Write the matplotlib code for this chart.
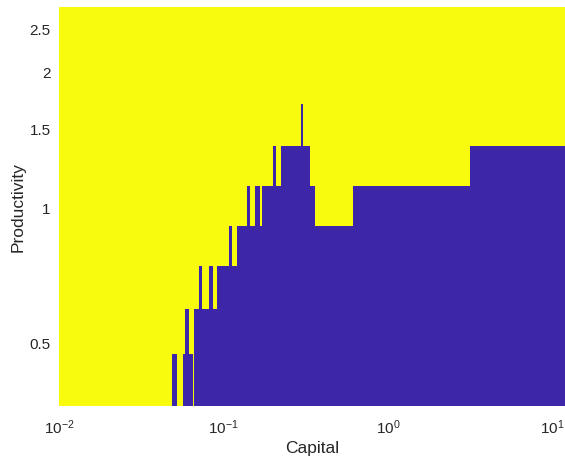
import numpy as np
import matplotlib
matplotlib.use('Agg')
import matplotlib.pyplot as plt
from matplotlib.colors import ListedColormap

plt.rcParams['font.family'] = ['Liberation Sans', 'DejaVu Sans']
plt.rcParams['mathtext.default'] = 'regular'

# capital grid breakpoints (cell edges) and productivity cell edges
capital_edges = [0.01, 0.04875, 0.05216, 0.05673, 0.05834, 0.06195, 0.06498,
                 0.06645, 0.07127, 0.07401, 0.0820, 0.0867, 0.09131, 0.1085,
                 0.1122, 0.1203, 0.1395, 0.1449, 0.1554, 0.1667, 0.1721, 0.2000,
                 0.2071, 0.2227, 0.2959, 0.3031, 0.3355, 0.3574, 0.6153, 3.151,
                 11.91]
prod_edges = [0.362, 0.472, 0.594, 0.741, 0.909, 1.113, 1.366, 1.696, 2.786]

# number of productivity cells (from the bottom) in the blue region, per capital segment
n_blue = [0, 1, 0, 1, 2, 1, 0, 2, 3, 2, 3, 2, 3, 4, 3, 4, 5, 4, 5, 4,
          5, 6, 5, 6, 7, 6, 5, 4, 5, 6]

ytick_vals = [0.5, 1, 1.5, 2, 2.5]
ytick_labels = ['0.5', '1', '1.5', '2', '2.5']
xtick_vals = [0.01, 0.1, 1, 10]

# build the binary decision matrix (rows: productivity, cols: capital)
n_rows = len(prod_edges) - 1
grid = np.zeros((n_rows, len(n_blue)))
for j, n in enumerate(n_blue):
    grid[n:, j] = 1  # yellow above the threshold

cmap = ListedColormap(['#3E26A8', '#F9FB0E'])

fig = plt.figure(figsize=(5.65, 4.6), dpi=100)
ax = fig.add_axes([59 / 565, 53 / 460, 1 - 59 / 565, 399 / 460])
ax.pcolormesh(capital_edges, prod_edges, grid, cmap=cmap, vmin=0, vmax=1,
              shading='flat', antialiased=False)
ax.set_xscale('log')
ax.set_yscale('log')
ax.set_xlim(capital_edges[0], capital_edges[-1])
ax.set_ylim(prod_edges[0], prod_edges[-1])

ax.set_yticks(ytick_vals)
ax.set_yticklabels(ytick_labels)
ax.yaxis.set_minor_locator(matplotlib.ticker.NullLocator())
ax.set_xticks(xtick_vals)
ax.xaxis.set_minor_locator(matplotlib.ticker.NullLocator())

ax.tick_params(axis='both', length=0, labelsize=11, colors='#262626')
ax.tick_params(axis='x', pad=8)
ax.tick_params(axis='y', pad=6)
for s in ax.spines.values():
    s.set_visible(False)

ax.set_xlabel('Capital', fontsize=12.5, color='#262626', labelpad=3)
ax.set_ylabel('Productivity', fontsize=12.5, color='#262626', labelpad=3)

fig.savefig('out.png', dpi=100)
